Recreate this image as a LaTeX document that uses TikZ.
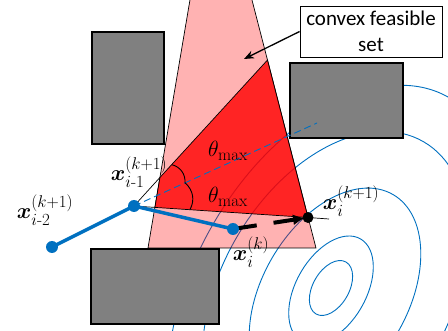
\RequirePackage{fix-cm}
\documentclass[tikz,border=0pt]{standalone}
\usepackage{amsmath,bm}
\usepackage{fontspec}
\newfontfamily\boxfont{Carlito}
\usetikzlibrary{arrows.meta,calc}
\DeclareMathSizes{22}{22}{17}{12}
\definecolor{pathblue}{RGB}{0,112,192}
\definecolor{obstgray}{RGB}{128,128,128}
\tikzset{
  obstacle/.style={draw=black,line width=1.3pt,fill=obstgray},
  contour/.style={draw=pathblue,line width=0.9pt},
  bluedot/.style={circle,fill=pathblue,inner sep=0pt,minimum size=12pt},
  blackdot/.style={circle,fill=black,inner sep=0pt,minimum size=11pt},
  ptlabel/.style={inner sep=0pt,font=\fontsize{22}{26}\selectfont},
}

\begin{document}
\begin{tikzpicture}[x=1pt,y=-1pt]
  \useasboundingbox (0,0) rectangle (448,331);
  \clip (0,0) rectangle (448,331);
  % level sets of the cost
  \foreach \cx/\cy/\a/\b in {331/288/30/18, 331/290/59/35, 335/295/116/73, 335/295/177/114, 335/295/228/141}
    \draw[contour,rotate around={60:(\cx,\cy)}] (\cx,\cy) ellipse [x radius=\a pt,y radius=\b pt];

  \coordinate (xim2) at (52,247);
  \coordinate (xim1) at (134,206);
  \coordinate (xik) at (233,229);
  \coordinate (xip) at (308,217.5);
  \coordinate (apex) at (267.5,60);
  \coordinate (far) at (329,219);
  \coordinate (dashend) at (317,123);
  \coordinate (ul) at (159.9,177.5);
  \coordinate (ll) at (154.9,207.4);

  % trust region and convex feasible set
  \filldraw[fill=red,fill opacity=0.3,draw=black,line width=0.7pt]
    (190.8,-5) -- (148,248) -- (316,248) -- (250.7,-5) -- cycle;
  \filldraw[fill=red,fill opacity=0.8,draw=black,line width=0.7pt]
    (ul) -- (apex) -- (xip) -- (ll) -- cycle;
  \draw[line width=0.7pt] (xim1) -- (ul);
  \draw[line width=0.7pt] (xim1) -- (ll);
  \draw[line width=0.7pt] (xip) -- (far);

  % obstacles
  \foreach \x/\y/\w/\h in {92/32/72/112, 290/63/113/75, 91/249/128/75}
    \draw[obstacle] (\x,\y) rectangle ++(\w,\h);

  \draw[pathblue,line width=0.9pt,dash pattern=on 7pt off 4pt] (xim1) -- (dashend);

  % angle marks
  \coordinate (m1) at ($(xim1)!56pt!(apex)$);
  \coordinate (m2) at ($(xim1)!56pt!(dashend)$);
  \coordinate (m3) at ($(xim1)!56pt!(xip)$);
  \draw[line width=0.9pt] (m1) to[bend left=40] (m2) to[bend left=40] (m3);

  \draw[pathblue,line width=3.5pt] (xim2) -- (xim1) -- (xik);
  \draw[line width=4pt,dash pattern=on 24pt off 17pt,-{Latex[length=12pt,width=11pt]},shorten >=3pt] (xik) -- (xip);

  \node[bluedot] (dim2) at (xim2) {};
  \node[bluedot] (dim1) at (xim1) {};
  \node[bluedot] (dik) at (xik) {};
  \node[blackdot] (dip) at (xip) {};

  \node[ptlabel] (lim2) at (45,210) {$\bm{x}_{i\text{-}2}^{(k+1)}$};
  \node[ptlabel] (lim1) at (139,172) {$\bm{x}_{i\text{-}1}^{(k+1)}$};
  \node[ptlabel] (lik) at (251,252) {$\bm{x}_{i}^{(k)}$};
  \node[ptlabel] (lip) at (351,201) {$\bm{x}_{i}^{(k+1)}$};
  \node[ptlabel] (th1) at (228,151) {$\theta_{\max}$};
  \node[ptlabel] (th2) at (228,197) {$\theta_{\max}$};

  % callout
  \node[draw,fill=white,line width=0.8pt,minimum width=142pt,minimum height=51pt,inner sep=2pt,
    align=center,font=\boxfont\fontsize{21}{26}\selectfont] (feas) at (371,31.5) {convex feasible\\set};
  \coordinate (feastip) at (244,59);
  \draw[line width=1.3pt,-{Stealth[length=10pt,width=8pt]}] (feas.west) -- (feastip);
\end{tikzpicture}
\end{document}
